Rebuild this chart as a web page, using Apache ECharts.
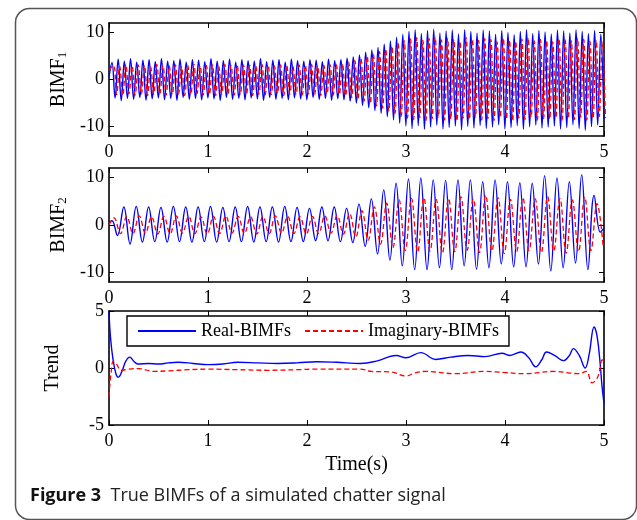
<!DOCTYPE html>
<html>
<head>
<meta charset="utf-8">
<script src="https://cdn.jsdelivr.net/npm/echarts@6/dist/echarts.min.js"></script>
<style>
  html, body { margin: 0; padding: 0; background: #fff; }
  #chart { width: 637px; height: 520px; }
</style>
</head>
<body>
<div id="chart"></div>
<script>
// tick labels
const timeTicks = [0, 1, 2, 3, 4, 5]
const bimfTicks = [-10, 0, 10]
const trendTicks = [-5, 0, 5]

// BIMF1 (about 16 Hz): successive peaks / troughs
const bimf1Start = 0.03
const bimf1Half = 0.03125
const bimf1RealPeaks = [
  3.6, 4.3, 3.9, 4.4, 3.7, 4.1, 4.2, 3.8, 4.4, 3.9,
  4.0, 4.3, 3.7, 4.2, 4.1, 3.8, 4.4, 3.9, 4.0, 4.3,
  3.7, 4.2, 4.0, 3.9, 4.4, 3.8, 4.1, 4.2, 3.7, 4.3,
  4.0, 3.9, 4.2, 4.1, 3.8, 4.3, 4.0, 4.2, 4.5, 4.8,
  5.2, 5.8, 6.3, 6.8, 7.5, 8.2, 9.0, 9.6, 10.2, 10.6,
  9.8, 10.4, 10.7, 9.9, 10.3, 10.5, 9.7, 10.6, 10.2, 9.9,
  10.5, 10.3, 9.6, 10.4, 10.0, 9.5, 10.2, 10.6, 9.8, 10.4,
  10.1, 9.7, 10.5, 10.3, 9.9, 10.6, 10.2, 9.8, 10.4, 9.6
]
const bimf1RealTroughs = [
  -3.9, -4.5, -4.0, -4.2, -3.8, -4.4, -4.1, -3.9, -4.3, -4.0,
  -4.4, -3.8, -4.2, -4.0, -4.3, -3.9, -4.1, -4.4, -3.8, -4.2,
  -4.0, -4.3, -3.9, -4.1, -4.4, -3.8, -4.2, -4.0, -4.3, -3.9,
  -4.1, -4.3, -3.8, -4.2, -4.0, -4.4, -4.1, -4.3, -4.6, -5.0,
  -5.5, -6.0, -6.6, -7.2, -7.9, -8.6, -9.3, -9.9, -10.4, -9.8,
  -10.6, -10.1, -9.7, -10.5, -10.2, -9.9, -10.7, -10.0, -10.3, -9.8,
  -10.4, -10.1, -9.6, -10.5, -10.2, -9.8, -10.6, -10.0, -9.7, -10.3,
  -10.1, -9.9, -10.5, -10.2, -9.6, -10.4, -10.8, -10.0, -9.7, -8.4
]
const bimf1ImagPeaks = [
  3.0, 2.8, 3.2, 2.9, 3.1, 3.0, 2.7, 3.2, 3.0, 2.9,
  3.1, 2.8, 3.0, 3.2, 2.9, 3.0, 3.1, 2.8, 3.2, 3.0,
  2.9, 3.1, 3.0, 2.8, 3.2, 3.0, 2.9, 3.1, 3.0, 2.8,
  3.1, 3.0, 3.2, 2.9, 3.0, 3.1, 3.2, 3.4, 3.7, 4.0,
  4.4, 4.9, 5.4, 5.9, 6.5, 7.1, 7.7, 8.2, 8.6, 8.9,
  8.3, 8.7, 9.0, 8.4, 8.8, 8.5, 8.1, 8.9, 8.6, 8.3,
  8.7, 8.5, 8.0, 8.8, 8.4, 8.1, 8.6, 8.9, 8.2, 8.5,
  8.3, 8.0, 8.7, 8.4, 8.2, 8.8, 8.5, 8.1, 8.4, 8.0
]
const bimf1ImagTroughs = [
  -3.2, -3.4, -3.0, -3.3, -3.1, -3.4, -3.2, -3.0, -3.3, -3.2,
  -3.1, -3.4, -3.2, -3.0, -3.3, -3.2, -3.4, -3.1, -3.0, -3.3,
  -3.2, -3.0, -3.4, -3.1, -3.3, -3.2, -3.0, -3.4, -3.1, -3.2,
  -3.3, -3.1, -3.2, -3.4, -3.0, -3.3, -3.2, -3.5, -3.8, -4.1,
  -4.6, -5.1, -5.6, -6.1, -6.7, -7.2, -7.8, -8.2, -8.5, -8.1,
  -8.7, -8.3, -8.0, -8.6, -8.4, -8.8, -8.2, -8.5, -8.0, -8.6,
  -8.3, -8.7, -8.1, -8.4, -8.8, -8.2, -8.5, -8.0, -8.6, -8.3,
  -8.4, -8.1, -8.7, -8.2, -8.5, -8.0, -8.6, -8.3, -7.9, -8.2
]

// BIMF2 (about 8 Hz)
const bimf2Start = 0.15
const bimf2Half = 0.0625
const bimf2RealHead = [[0, 0.6], [0.03, 0.9], [0.085, -2.2]]
const bimf2RealPeaks = [
  3.8, 3.9, 3.8, 3.7, 3.9, 3.8, 3.8, 3.9, 3.7, 3.8,
  3.9, 3.8, 3.8, 3.9, 3.7, 3.5, 3.8, 3.8, 3.5, 4.4,
  5.5, 7.4, 8.8, 9.7, 9.9, 9.5, 9.4, 9.5, 9.5, 9.1,
  9.5, 9.1, 8.9, 8.8, 10.4, 9.9, 9.1, 10.6, 6.3
]
const bimf2RealTroughs = [
  -4.0, -3.6, -3.5, -3.6, -3.5, -3.6, -3.5, -3.6, -3.5, -3.5,
  -3.6, -3.5, -3.6, -3.5, -3.5, -3.3, -3.3, -3.5, -3.7, -4.5,
  -6.1, -7.4, -8.6, -9.4, -9.4, -9.0, -9.4, -8.6, -9.3, -9.0,
  -8.2, -8.8, -8.8, -8.2, -9.7, -9.0, -8.0, -9.4, -1.5
]
const bimf2RealTail = [[5.0, -0.7]]
const bimf2ImagStart = 0.18
const bimf2ImagHead = [[0, 0], [0.05, 1.5], [0.116, -1.8]]
const bimf2ImagPeaks = [
  1.8, 1.9, 1.7, 1.8, 1.9, 1.8, 1.7, 1.8, 1.9, 1.8,
  1.7, 1.8, 1.9, 1.8, 1.7, 1.8, 1.9, 2.0, 2.4, 3.0,
  3.8, 4.6, 5.3, 5.6, 5.8, 5.4, 5.6, 5.9, 5.5, 6.3,
  5.7, 5.4, 5.8, 5.5, 6.0, 5.6, 5.3, 5.9, 4.5
]
const bimf2ImagTroughs = [
  -1.8, -1.7, -1.9, -1.8, -1.7, -1.8, -1.9, -1.8, -1.7, -1.8,
  -1.9, -1.8, -1.7, -1.8, -1.9, -1.8, -1.7, -1.9, -2.5, -3.2,
  -4.0, -4.8, -5.4, -5.7, -5.5, -5.9, -5.6, -5.3, -5.8, -5.5,
  -6.0, -5.6, -5.4, -5.8, -5.5, -5.9, -5.6, -5.4, -4.7
]

// Trend: [time, value]
const trendReal = [
  [0, 4.9], [0.015, 2.7], [0.04, 0.8], [0.07, -0.5], [0.095, -0.8], [0.13, -0.3],
  [0.17, 0.6], [0.21, 0.95], [0.25, 0.6], [0.29, 0.35], [0.4, 0.4], [0.5, 0.35],
  [0.6, 0.45], [0.7, 0.5], [0.85, 0.4], [1.0, 0.3], [1.15, 0.35], [1.3, 0.5],
  [1.5, 0.45], [1.7, 0.4], [1.9, 0.45], [2.1, 0.55], [2.3, 0.5], [2.54, 0.4],
  [2.7, 0.6], [2.9, 1.1], [3.0, 0.9], [3.15, 1.35], [3.3, 0.75], [3.45, 0.95],
  [3.63, 1.1], [3.8, 1.0], [3.97, 1.3], [4.05, 1.1], [4.16, 1.4], [4.24, 0.9],
  [4.31, 0.1], [4.37, 0.7], [4.42, 1.4], [4.5, 1.1], [4.59, 0.65], [4.65, 1.1],
  [4.69, 1.7], [4.75, 1.1], [4.81, 0.0], [4.85, 1.2], [4.9, 3.6], [4.93, 2.8],
  [4.96, 0.5], [4.98, -1.6], [5.0, -3.1]
]
const trendImag = [
  [0, -2.5], [0.02, -0.5], [0.045, 0.6], [0.08, 0.3], [0.12, -0.2], [0.2, -0.1],
  [0.3, -0.05], [0.45, -0.3], [0.6, -0.25], [0.8, -0.15], [1.0, -0.1], [1.3, -0.15],
  [1.6, -0.2], [1.9, -0.15], [2.1, -0.1], [2.54, -0.1], [2.65, -0.3], [2.85, -0.35],
  [3.0, -0.7], [3.1, -0.4], [3.2, -0.3], [3.5, -0.5], [3.8, -0.3], [4.0, -0.4],
  [4.2, -0.5], [4.5, -0.3], [4.75, -0.5], [4.82, -0.3], [4.88, -1.3], [4.93, -0.9],
  [4.96, -0.1], [4.98, 0.7], [5.0, 0.7]
]

// peaks and troughs alternate, half a period apart
function zigzag(head, t0, half, peaks, troughs, tail) {
  const out = head.slice()
  for (let i = 0; i < peaks.length; i++) {
    out.push([t0 + 2 * i * half, peaks[i]])
    if (i < troughs.length) out.push([t0 + (2 * i + 1) * half, troughs[i]])
  }
  return out.concat(tail)
}

const serif = 'Liberation Serif'
const grids = [
  { left: 109, top: 23, width: 495, height: 113 },
  { left: 109, top: 168, width: 495, height: 114 },
  { left: 109, top: 311, width: 495, height: 114 }
]
const yRanges = [[-12, 12, bimfTicks], [-12, 12, bimfTicks], [-5, 5, trendTicks]]
const yNames = ['{m|BIMF}{s|1}', '{m|BIMF}{s|2}', '{m|Trend}']

const xAxes = []
const yAxes = []
grids.forEach((g, i) => {
  const line = { show: true, onZero: false, lineStyle: { color: '#000', width: 1.6 } }
  const tick = { show: true, inside: true, length: 5, lineStyle: { color: '#000', width: 1 } }
  xAxes.push({
    gridIndex: i, type: 'value', min: 0, max: 5, interval: 1, position: 'bottom',
    axisLine: line, axisTick: Object.assign({ customValues: timeTicks }, tick), splitLine: { show: false },
    axisLabel: { customValues: timeTicks, color: '#000', fontFamily: serif, fontSize: 18, margin: 7 },
    name: i === 2 ? 'Time(s)' : '', nameLocation: 'middle', nameGap: 30,
    nameTextStyle: { color: '#000', fontFamily: serif, fontSize: 20 }
  })
  xAxes.push({
    gridIndex: i, type: 'value', min: 0, max: 5, interval: 1, position: 'top',
    axisLine: line, axisTick: tick, splitLine: { show: false }, axisLabel: { show: false }
  })
  const [mn, mx, ticks] = yRanges[i]
  yAxes.push({
    gridIndex: i, type: 'value', min: mn, max: mx, position: 'left',
    axisLine: line, splitLine: { show: false },
    axisTick: Object.assign({ customValues: ticks }, tick),
    axisLabel: { customValues: ticks, color: '#000', fontFamily: serif, fontSize: 18, margin: 5 },
    name: yNames[i], nameLocation: 'middle', nameRotate: 90, nameGap: i === 2 ? 46 : 38,
    nameTextStyle: {
      rich: {
        m: { fontFamily: serif, fontSize: 20, color: '#000' },
        s: { fontFamily: serif, fontSize: 13, color: '#000', padding: [8, 0, 0, 0] }
      }
    }
  })
  yAxes.push({
    gridIndex: i, type: 'value', min: mn, max: mx, position: 'right',
    axisLine: line, splitLine: { show: false },
    axisTick: Object.assign({ customValues: ticks }, tick),
    axisLabel: { show: false }
  })
})

function real(i, data) {
  return {
    name: 'Real-BIMFs', type: 'line', xAxisIndex: 2 * i, yAxisIndex: 2 * i,
    data: data, showSymbol: false, symbol: 'none', smooth: 0.4,
    lineStyle: { color: '#0000ff', width: 1.4 }, itemStyle: { color: '#0000ff' }
  }
}
function imag(i, data) {
  return {
    name: 'Imaginary-BIMFs', type: 'line', xAxisIndex: 2 * i, yAxisIndex: 2 * i,
    data: data, showSymbol: false, symbol: 'none', smooth: 0.4,
    lineStyle: { color: '#ff0000', width: 1.3, type: [5, 3] }, itemStyle: { color: '#ff0000' }
  }
}

const chart = echarts.init(document.getElementById('chart'))
chart.setOption({
  animation: false,
  backgroundColor: '#fff',
  grid: grids,
  xAxis: xAxes,
  yAxis: yAxes,
  legend: {
    data: ['Real-BIMFs', 'Imaginary-BIMFs'],
    left: 127, top: 316,
    padding: [6, 10, 6, 10],
    itemWidth: 58, itemHeight: 14, itemGap: 13,
    itemStyle: { opacity: 0 },
    borderColor: '#000', borderWidth: 1.4, backgroundColor: '#fff',
    textStyle: { fontFamily: serif, fontSize: 18, color: '#000' }
  },
  graphic: [
    {
      type: 'rect', left: 13, top: 6, z: -1,
      shape: { width: 621, height: 511, r: 14 },
      style: { fill: 'none', stroke: '#555', lineWidth: 1.5 }
    },
    {
      type: 'text', left: 30, top: 487,
      style: {
        text: '{b|Figure 3}{r|  True BIMFs of a simulated chatter signal}',
        rich: {
          b: { fontFamily: 'Open Sans', fontWeight: 'bold', fontSize: 18, fill: '#111' },
          r: { fontFamily: 'Open Sans', fontSize: 18, fill: '#222' }
        }
      }
    }
  ],
  series: [
    real(0, zigzag([[0, 0.5]], bimf1Start, bimf1Half, bimf1RealPeaks, bimf1RealTroughs, [])),
    imag(0, zigzag([[0, 2.0]], bimf1Start + bimf1Half / 2, bimf1Half, bimf1ImagPeaks, bimf1ImagTroughs, [])),
    real(1, zigzag(bimf2RealHead, bimf2Start, bimf2Half, bimf2RealPeaks, bimf2RealTroughs, bimf2RealTail)),
    imag(1, zigzag(bimf2ImagHead, bimf2ImagStart, bimf2Half, bimf2ImagPeaks, bimf2ImagTroughs, [])),
    real(2, trendReal),
    imag(2, trendImag)
  ]
})
</script>
</body>
</html>
